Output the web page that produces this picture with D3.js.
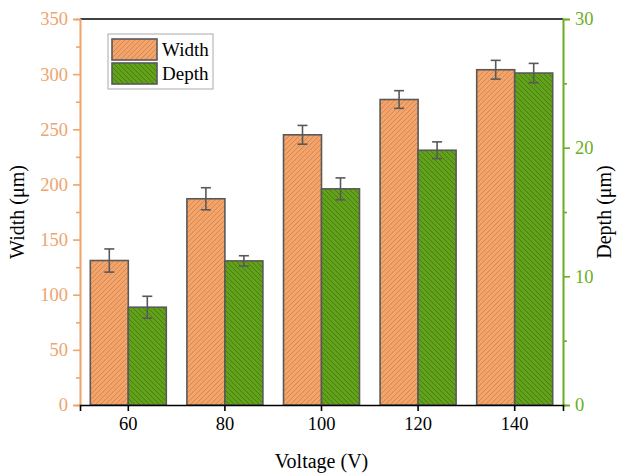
<!DOCTYPE html>
<html>
<head>
<meta charset="utf-8">
<script src="https://cdn.jsdelivr.net/npm/d3@7"></script>
<style>
  body { margin: 0; background: #fff; }
  svg { font-family: "Liberation Serif", "Times New Roman", serif; }
</style>
</head>
<body>
<svg id="chart" width="622" height="475"></svg>
<script>
let voltages = ["60", "80", "100", "120", "140"]
let widthValues = [131, 187, 245, 277, 304]
let widthErrors = [10.5, 10, 8.5, 8, 8.5]
let depthValues = [7.6, 11.2, 16.8, 19.8, 25.8]
let depthErrors = [0.85, 0.4, 0.85, 0.65, 0.75]
let widthTicks = [0, 50, 100, 150, 200, 250, 300, 350]
let depthTicks = [0, 10, 20, 30]

let orange = "#f4a46a"
let green = "#62a11a"
let orangeAxis = "#eea46c"
let greenAxis = "#6aae22"

let plotL = 80, plotR = 563, plotT = 19, plotB = 405

let svg = d3.select("#chart")

// hatch patterns
let defs = svg.append("defs")
let pw = defs.append("pattern")
    .attr("id", "hatchW")
    .attr("patternUnits", "userSpaceOnUse")
    .attr("width", 5)
    .attr("height", 5)
pw.append("rect").attr("width", 5).attr("height", 5).attr("fill", orange)
pw.append("path")
    .attr("d", "M-1,1 l2,-2 M0,5 l5,-5 M4,6 l2,-2")
    .attr("stroke", "#c47c48")
    .attr("stroke-width", 0.7)

let pd = defs.append("pattern")
    .attr("id", "hatchD")
    .attr("patternUnits", "userSpaceOnUse")
    .attr("width", 5)
    .attr("height", 5)
pd.append("rect").attr("width", 5).attr("height", 5).attr("fill", green)
pd.append("path")
    .attr("d", "M-1,4 l2,2 M0,0 l5,5 M4,-1 l2,2")
    .attr("stroke", "#3f6f12")
    .attr("stroke-width", 0.7)

let xScale = d3.scaleBand()
    .domain(voltages)
    .range([plotL, plotR])

let inner = d3.scaleBand()
    .domain(["w", "d"])
    .range([0, 76])

let wScale = d3.scaleLinear()
    .domain([0, 350])
    .range([plotB, plotT])

let dScale = d3.scaleLinear()
    .domain([0, 30])
    .range([plotB, plotT])

let barOffset = xScale.bandwidth() / 2 - 38

// width bars
svg.selectAll(".wbar")
    .data(widthValues)
    .enter()
    .append("rect")
    .attr("x", (d, i) => xScale(voltages[i]) + barOffset + inner("w"))
    .attr("y", d => wScale(d))
    .attr("width", inner.bandwidth())
    .attr("height", d => plotB - wScale(d))
    .attr("fill", "url(#hatchW)")
    .attr("stroke", "#595959")
    .attr("stroke-width", 1.6)

// depth bars
svg.selectAll(".dbar")
    .data(depthValues)
    .enter()
    .append("rect")
    .attr("x", (d, i) => xScale(voltages[i]) + barOffset + inner("d"))
    .attr("y", d => dScale(d))
    .attr("width", inner.bandwidth())
    .attr("height", d => plotB - dScale(d))
    .attr("fill", "url(#hatchD)")
    .attr("stroke", "#595959")
    .attr("stroke-width", 1.6)

// error bars
function errorBars(values, errors, scale, key) {
    let g = svg.append("g")
        .attr("stroke", "#595959")
        .attr("stroke-width", 1.6)
    values.forEach((v, i) => {
        let cx = xScale(voltages[i]) + barOffset + inner(key) + inner.bandwidth() / 2
        let y1 = scale(v + errors[i])
        let y2 = scale(v - errors[i])
        g.append("line").attr("x1", cx).attr("x2", cx).attr("y1", y1).attr("y2", y2)
        g.append("line").attr("x1", cx - 5).attr("x2", cx + 5).attr("y1", y1).attr("y2", y1)
        g.append("line").attr("x1", cx - 5).attr("x2", cx + 5).attr("y1", y2).attr("y2", y2)
    })
}
errorBars(widthValues, widthErrors, wScale, "w")
errorBars(depthValues, depthErrors, dScale, "d")

// frame top
svg.append("line")
    .attr("x1", plotL).attr("x2", plotR)
    .attr("y1", plotT).attr("y2", plotT)
    .attr("stroke", "#000")
    .attr("stroke-width", 1.6)

// left axis
let wMinor = d3.axisLeft(wScale)
    .tickValues(d3.range(25, 350, 50))
    .tickSize(4)
    .tickFormat("")
svg.append("g")
    .attr("class", "laxis")
    .attr("transform", `translate(${plotL},0)`)
    .call(wMinor)
let yAxis = d3.axisLeft(wScale)
    .tickValues(widthTicks)
    .tickSize(7)
    .tickPadding(5)
let gy = svg.append("g")
    .attr("class", "laxis")
    .attr("transform", `translate(${plotL},0)`)
    .call(yAxis)

// right axis
let dMinor = d3.axisRight(dScale)
    .tickValues([5, 15, 25])
    .tickSize(4)
    .tickFormat("")
svg.append("g")
    .attr("class", "raxis")
    .attr("transform", `translate(${plotR},0)`)
    .call(dMinor)
let y2Axis = d3.axisRight(dScale)
    .tickValues(depthTicks)
    .tickSize(7)
    .tickPadding(5)
let gy2 = svg.append("g")
    .attr("class", "raxis")
    .attr("transform", `translate(${plotR},0)`)
    .call(y2Axis)

// bottom axis
let xAxis = d3.axisBottom(xScale)
    .tickSize(6)
    .tickPadding(6)
let gx = svg.append("g")
    .attr("transform", `translate(0,${plotB})`)
    .call(xAxis)

// style axes
svg.selectAll("g.tick text").attr("font-size", 18.5).attr("font-family", "Liberation Serif, serif")
svg.selectAll("path.domain, g.tick line").attr("stroke-width", 1.6)

svg.selectAll("g.laxis").selectAll("path, line").attr("stroke", orangeAxis)
gy.selectAll("text").attr("fill", orangeAxis)

svg.selectAll("g.raxis").selectAll("path, line").attr("stroke", greenAxis)
gy2.selectAll("text").attr("fill", greenAxis)

gx.selectAll("path, line").attr("stroke", "#000")
gx.selectAll("text").attr("fill", "#000")

// axis titles
svg.append("text")
    .attr("transform", `translate(24,${(plotT + plotB) / 2}) rotate(-90)`)
    .attr("text-anchor", "middle")
    .attr("font-size", 20)
    .text("Width (μm)")

svg.append("text")
    .attr("transform", `translate(611,${(plotT + plotB) / 2}) rotate(-90)`)
    .attr("text-anchor", "middle")
    .attr("font-size", 20)
    .text("Depth (μm)")

svg.append("text")
    .attr("x", (plotL + plotR) / 2)
    .attr("y", 468)
    .attr("text-anchor", "middle")
    .attr("font-size", 20)
    .text("Voltage (V)")

// legend
let legend = svg.append("g")
legend.append("rect")
    .attr("x", 108).attr("y", 34)
    .attr("width", 105).attr("height", 55)
    .attr("fill", "#fff")
    .attr("stroke", "#aaa")
    .attr("stroke-width", 1)
let legendItems = [["Width", "url(#hatchW)"], ["Depth", "url(#hatchD)"]]
legendItems.forEach((d, i) => {
    legend.append("rect")
        .attr("x", 112).attr("y", 39 + i * 24)
        .attr("width", 45).attr("height", 21)
        .attr("fill", d[1])
        .attr("stroke", "#595959")
        .attr("stroke-width", 1.6)
    legend.append("text")
        .attr("x", 162).attr("y", 56 + i * 24)
        .attr("font-size", 19)
        .text(d[0])
})
</script>
</body>
</html>
